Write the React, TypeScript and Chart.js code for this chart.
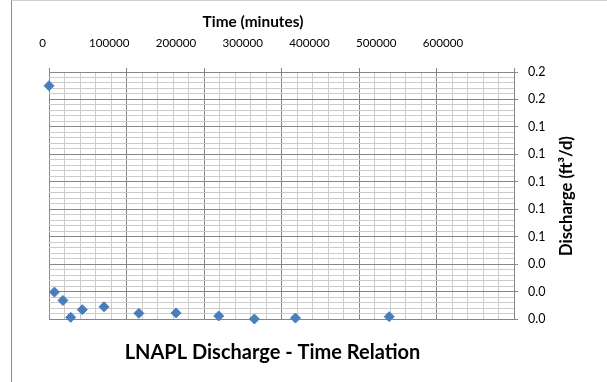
import React, { useEffect, useRef } from 'react';
import { Chart, registerables } from 'chart.js';

Chart.register(...registerables);

// ---- data ----
const TIME_MIN = [0, 7000, 18000, 28000, 43000, 71000, 116000, 164000, 219000, 265000, 318000, 439000];
const DISCHARGE = [0.170, 0.0196, 0.0135, 0.0012, 0.0068, 0.0089, 0.0041, 0.0044, 0.0022, 0.0000, 0.0007, 0.0017];
const X_TICK_LABELS = [0, 100000, 200000, 300000, 400000, 500000, 600000];

const X_MIN = 0;
const X_MAX = 600000;
const X_MAJOR = 100000;
const X_MINOR = 20000;
const Y_MIN = 0;
const Y_MAX = 0.18;
const Y_MAJOR = 0.02;
const Y_MINOR = 0.004;
// the reference's time labels sit on a slightly compressed scale
const X_LABEL_MIN = 9738;
const X_LABEL_MAX = 706367;

const CHART_TITLE = 'LNAPL Discharge - Time Relation';
const X_TITLE = 'Time (minutes)';
const Y_TITLE = 'Discharge (ft³/d)';

const FONT = 'Lato, "Open Sans", sans-serif';
const MAJOR_GRID = '#868686';
const MINOR_GRID = '#cccccc';

const isMajor = (v: number, step: number) => Math.abs(v / step - Math.round(v / step)) < 1e-6;

export default function App() {
  const ref = useRef<HTMLCanvasElement>(null);

  useEffect(() => {
    document.body.style.margin = '0';
    const titles = {
      id: 'titles',
      afterDraw(chart: any) {
        const c = chart.ctx as CanvasRenderingContext2D;
        c.save();
        c.fillStyle = '#000';
        c.textAlign = 'center';
        c.textBaseline = 'middle';
        c.font = `bold 15.4px ${FONT}`;
        c.fillText(X_TITLE, 253, 22);
        c.save();
        c.translate(567, 196);
        c.rotate(-Math.PI / 2);
        c.font = `bold 16.6px ${FONT}`;
        c.fillText(Y_TITLE, 0, 0);
        c.restore();
        c.font = `bold 20px ${FONT}`;
        c.fillText(CHART_TITLE, 272.5, 353);
        c.restore();
      },
    };

    const chart = new Chart(ref.current as HTMLCanvasElement, {
      type: 'scatter',
      data: {
        datasets: [
          {
            data: TIME_MIN.map((x, i) => ({ x, y: DISCHARGE[i] })),
            pointStyle: 'rectRot',
            pointRadius: 5,
            backgroundColor: '#4a7ebb',
            borderColor: '#4a7ebb',
            borderWidth: 1,
            clip: false as any,
          },
        ],
      },
      options: {
        responsive: false,
        animation: false,
        events: [],
        layout: { padding: { left: 49, top: 0, right: 0, bottom: 63 } },
        plugins: { legend: { display: false }, tooltip: { enabled: false }, title: { display: false } },
        scales: {
          x: {
            type: 'linear',
            position: 'top',
            weight: 0,
            min: X_MIN,
            max: X_MAX,
            ticks: { display: false, stepSize: X_MINOR, autoSkip: false },
            grid: {
              color: (ctx: any) => (isMajor(ctx.tick.value, X_MAJOR) ? MAJOR_GRID : MINOR_GRID),
              tickColor: (ctx: any) => (isMajor(ctx.tick.value, X_MAJOR) ? MAJOR_GRID : 'rgba(0,0,0,0)'),
              tickLength: 4,
            },
            border: { color: MAJOR_GRID },
            afterFit: (s: any) => {
              s.height = 4;
            },
          },
          xl: {
            type: 'linear',
            position: 'top',
            weight: 1,
            min: X_LABEL_MIN,
            max: X_LABEL_MAX,
            grid: { display: false, drawTicks: false },
            border: { display: false },
            ticks: {
              autoSkip: false,
              maxRotation: 0,
              padding: 18,
              color: '#000',
              font: { family: FONT, size: 11.6 },
              callback: (v: any) => String(v),
            },
            afterBuildTicks: (s: any) => {
              s.ticks = X_TICK_LABELS.map((v) => ({ value: v }));
            },
            afterFit: (s: any) => {
              s.height = 68;
            },
          },
          y: {
            type: 'linear',
            position: 'right',
            min: Y_MIN,
            max: Y_MAX,
            ticks: {
              stepSize: Y_MINOR,
              autoSkip: false,
              padding: 10,
              color: '#000',
              font: { family: FONT, size: 12.5 },
              callback: (v: any) => (isMajor(Number(v), Y_MAJOR) ? Number(v).toFixed(1) : ''),
            },
            grid: {
              color: (ctx: any) => (isMajor(ctx.tick.value, Y_MAJOR) ? MAJOR_GRID : MINOR_GRID),
              tickColor: (ctx: any) => (isMajor(ctx.tick.value, Y_MAJOR) ? MAJOR_GRID : 'rgba(0,0,0,0)'),
              tickLength: 4,
            },
            border: { color: MAJOR_GRID },
            afterFit: (s: any) => {
              s.width = 93;
            },
          },
        },
      } as any,
      plugins: [titles],
    });
    return () => chart.destroy();
  }, []);

  return (
    <div style={{ position: 'absolute', left: 0, top: 0, width: 607, height: 382, overflow: 'hidden', background: '#fff' }}>
      <div
        style={{
          position: 'absolute',
          left: 11,
          top: 0,
          width: 620,
          height: 400,
          borderLeft: '1px solid #8c8c8c',
          borderTop: '1px solid #d0d0d0',
        }}
      />
      <canvas ref={ref} width={607} height={382} style={{ position: 'absolute', left: 0, top: 0 }} />
    </div>
  );
}
